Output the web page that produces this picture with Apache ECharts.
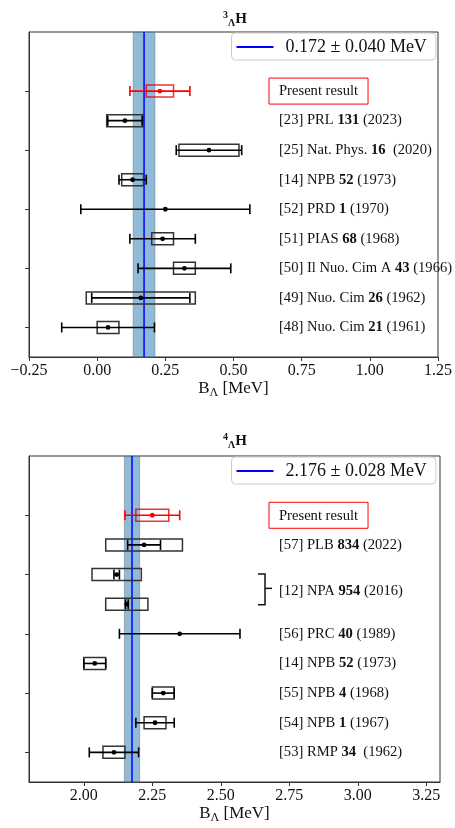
<!DOCTYPE html>
<html>
<head>
<meta charset="utf-8">
<script src="https://cdn.jsdelivr.net/npm/echarts@6/dist/echarts.min.js"></script>
<style>
  html, body { margin: 0; padding: 0; background: #fff; }
  #chart { width: 455px; height: 828px; }
</style>
</head>
<body>
<div id="chart"></div>
<script>
// 3ΛH measurements, listed bottom row (1) to top row (9)
var h3Labels = [
  "[48] Nuo. Cim {b|21} (1961)",
  "[49] Nuo. Cim {b|26} (1962)",
  "[50] Il Nuo. Cim A {b|43} (1966)",
  "[51] PIAS {b|68} (1968)",
  "[52] PRD {b|1} (1970)",
  "[14] NPB {b|52} (1973)",
  "[25] Nat. Phys. {b|16}  (2020)",
  "[23] PRL {b|131} (2023)",
  "Present result",
];
var h3Values = [0.04, 0.16, 0.32, 0.24, 0.25, 0.13, 0.41, 0.102, 0.23];
var h3Stat = [0.17, 0.18, 0.17, 0.12, 0.31, 0.05, 0.12, 0.063, 0.11];
var h3Syst = [0.04, 0.2, 0.04, 0.04, 0, 0.04, 0.11, 0.067, 0.05];
var h3Mean = 0.172;
var h3MeanErr = 0.04;
var h3Ticks = [-0.25, 0, 0.25, 0.5, 0.75, 1.0, 1.25];

// 4ΛH measurements, same order
var h4Labels = [
  "[53] RMP {b|34}  (1962)",
  "[54] NPB {b|1} (1967)",
  "[55] NPB {b|4} (1968)",
  "[14] NPB {b|52} (1973)",
  "[56] PRC {b|40} (1989)",
  "",
  "",
  "[57] PLB {b|834} (2022)",
  "Present result",
];
var h4Values = [2.11, 2.26, 2.29, 2.04, 2.35, 2.157, 2.12, 2.22, 2.25];
var h4Stat = [0.09, 0.07, 0.04, 0.04, 0.22, 0.005, 0.01, 0.06, 0.1];
var h4Syst = [0.04, 0.04, 0.04, 0.04, 0, 0.077, 0.09, 0.14, 0.06];
var h4Mean = 2.176;
var h4MeanErr = 0.028;
var h4Ticks = [2.0, 2.25, 2.5, 2.75, 3.0, 3.25];
var h4GroupRows = [6, 7];
var h4GroupLabel = "[12] NPA {b|954} (2016)";

var rowTicks = [1, 3, 5, 7, 9];
var serif = "Liberation Serif, Times New Roman, serif";
var labelSize = 14.6;

function meanName(m, e) {
  return m.toFixed(3) + " \u00b1 " + e.toFixed(3) + " MeV";
}

function fmtTick(v) {
  return v < 0 ? "\u2212" + Math.abs(v).toFixed(2) : v.toFixed(2);
}

// box = systematic, bar with caps = statistical
function errorBar(lineColor, boxColor) {
  return function (params, api) {
    var v = api.value(0), st = api.value(1), sy = api.value(2), row = api.value(3);
    var c = api.coord([v, row]);
    var l = api.coord([v - st, row])[0];
    var r = api.coord([v + st, row])[0];
    var kids = [];
    if (sy > 0) {
      var bl = api.coord([v - sy, row])[0];
      var br = api.coord([v + sy, row])[0];
      kids.push({
        type: "rect",
        shape: { x: bl, y: c[1] - 6, width: br - bl, height: 12 },
        style: { fill: "none", stroke: boxColor, lineWidth: 1.5 },
      });
    }
    var ls = { stroke: lineColor, lineWidth: 1.6 };
    kids.push({ type: "line", shape: { x1: l, y1: c[1], x2: r, y2: c[1] }, style: ls });
    kids.push({ type: "line", shape: { x1: l, y1: c[1] - 5, x2: l, y2: c[1] + 5 }, style: ls });
    kids.push({ type: "line", shape: { x1: r, y1: c[1] - 5, x2: r, y2: c[1] + 5 }, style: ls });
    kids.push({ type: "circle", shape: { cx: c[0], cy: c[1], r: 2.4 }, style: { fill: lineColor } });
    return { type: "group", children: kids };
  };
}

function labelRender(labels) {
  return function (params, api) {
    var text = labels[params.dataIndex];
    if (!text) return null;
    var y = api.coord([api.value(0), api.value(1)])[1];
    var x = params.coordSys.x + 250;
    var style = {
      text: text,
      x: x,
      y: y,
      fill: "#111",
      font: labelSize + "px " + serif,
      verticalAlign: "middle",
      rich: { b: { fontWeight: "bold", fontSize: labelSize, fontFamily: serif } },
    };
    if (text === "Present result") {
      style.x = x - 10;
      style.borderColor = "red";
      style.borderWidth = 1;
      style.padding = [6, 10, 5, 10];
    }
    return { type: "text", style: style };
  };
}

function bracketRender(params, api) {
  var x0 = params.coordSys.x;
  var xmin = api.value(0);
  var yA = api.coord([xmin, api.value(1)])[1] - 0.5;
  var yB = api.coord([xmin, api.value(2)])[1] + 0.5;
  var yM = (yA + yB) / 2 - 1;
  var ls = { stroke: "#111", lineWidth: 1.5, fill: "none" };
  return {
    type: "group",
    children: [
      { type: "polyline", shape: { points: [[x0 + 229, yA], [x0 + 236, yA], [x0 + 236, yB], [x0 + 229, yB]] }, style: ls },
      { type: "line", shape: { x1: x0 + 236, y1: yM, x2: x0 + 243, y2: yM }, style: ls },
      {
        type: "text",
        style: {
          text: h4GroupLabel, x: x0 + 250, y: yM + 2.5, fill: "#111",
          font: labelSize + "px " + serif, verticalAlign: "middle",
          rich: { b: { fontWeight: "bold", fontSize: labelSize, fontFamily: serif } },
        },
      },
    ],
  };
}

function panelSeries(idx, values, stat, syst, labels, mean, meanErr, xmin) {
  var pts = values.map(function (v, i) {
    return [v, stat[i], syst[i], i + 1];
  });
  var last = pts.length - 1;
  return [
    {
      name: meanName(mean, meanErr),
      type: "line",
      xAxisIndex: idx,
      yAxisIndex: idx,
      color: "#0000ff",
      symbol: "none",
      lineStyle: { color: "#0000ff", width: 1.5 },
      data: [[mean, 0], [mean, 11]],
      markArea: {
        silent: true,
        itemStyle: { color: "rgba(31,119,180,0.5)", borderColor: "rgba(120,120,120,0.5)", borderWidth: 1 },
        data: [[{ xAxis: mean - meanErr }, { xAxis: mean + meanErr }]],
      },
      z: 1,
    },
    {
      type: "custom",
      xAxisIndex: idx,
      yAxisIndex: idx,
      renderItem: errorBar("#000", "#333"),
      data: pts.slice(0, last),
      encode: { x: 0, y: 3 },
      z: 3,
    },
    {
      type: "custom",
      xAxisIndex: idx,
      yAxisIndex: idx,
      renderItem: errorBar("#ff0000", "rgba(230,0,0,0.8)"),
      data: pts.slice(last),
      encode: { x: 0, y: 3 },
      z: 3,
    },
    {
      type: "custom",
      xAxisIndex: idx,
      yAxisIndex: idx,
      renderItem: labelRender(labels),
      data: labels.map(function (t, i) {
        return [xmin, i + 1];
      }),
      z: 4,
    },
  ];
}

function xAxisFor(idx, ticks, min, max) {
  return {
    type: "value",
    gridIndex: idx,
    min: min,
    max: max,
    splitLine: { show: false },
    axisLine: { onZero: false, lineStyle: { color: "#333", width: 1 } },
    axisTick: { customValues: ticks, length: 4, lineStyle: { color: "#333" } },
    axisLabel: {
      customValues: ticks,
      formatter: fmtTick,
      color: "#111",
      fontSize: 16,
      fontFamily: serif,
      margin: 6,
    },
    name: "{n|B}{s|\u039b}{n| [MeV]}",
    nameLocation: "middle",
    nameGap: 10,
    nameTextStyle: {
      rich: {
        n: { fontSize: 17, fontFamily: serif, color: "#111", lineHeight: 20 },
        s: { fontSize: 12, fontFamily: serif, color: "#111", lineHeight: 14, verticalAlign: "bottom" },
      },
    },
  };
}

function yAxisFor(idx) {
  return {
    type: "value",
    gridIndex: idx,
    min: 0,
    max: 11,
    splitLine: { show: false },
    axisLine: { show: true, onZero: false, lineStyle: { color: "#333", width: 1 } },
    axisTick: { show: true, customValues: rowTicks, length: 4, lineStyle: { color: "#333" } },
    axisLabel: { show: false },
  };
}

function legendFor(idx, name, top) {
  return {
    data: [name],
    left: 231.5,
    top: top,
    icon: "rect",
    itemWidth: 37,
    itemHeight: 2,
    backgroundColor: "#fff",
    borderColor: "#ccc",
    borderWidth: 1,
    borderRadius: 4,
    padding: [5, 9, 4, 5],
    textStyle: { fontSize: 18, fontFamily: serif, color: "#111", padding: [0, 0, 0, 7] },
  };
}

function titleFor(mass, top) {
  return {
    text: "{p|" + mass + "}{s|\u039b}{m|H}",
    left: 230,
    top: top,
    textAlign: "center",
    textStyle: {
      rich: {
        p: { fontSize: 10, fontFamily: serif, color: "#111", lineHeight: 10, verticalAlign: "top" },
        s: { fontSize: 10, fontFamily: serif, color: "#111", lineHeight: 10, verticalAlign: "bottom" },
        m: { fontSize: 15, fontFamily: serif, color: "#111", lineHeight: 18 },
      },
    },
  };
}

var dom = document.getElementById("chart");
var myChart = echarts.init(dom, null, { renderer: "canvas" });

var series = []
  .concat(panelSeries(0, h3Values, h3Stat, h3Syst, h3Labels, h3Mean, h3MeanErr, -0.25))
  .concat(panelSeries(1, h4Values, h4Stat, h4Syst, h4Labels, h4Mean, h4MeanErr, 1.8));
series.push({
  type: "custom",
  xAxisIndex: 1,
  yAxisIndex: 1,
  renderItem: bracketRender,
  data: [[1.8, h4GroupRows[1], h4GroupRows[0]]],
  z: 4,
});

var option = {
  animation: false,
  backgroundColor: "#fff",
  title: [titleFor(3, 5), titleFor(4, 427)],
  legend: [
    legendFor(0, meanName(h3Mean, h3MeanErr), 33),
    legendFor(1, meanName(h4Mean, h4MeanErr), 457),
  ],
  grid: [
    { left: 29, top: 32, width: 411, height: 325, show: true, borderColor: "#333", borderWidth: 1 },
    { left: 29, top: 456, width: 411, height: 326, show: true, borderColor: "#333", borderWidth: 1 },
  ],
  xAxis: [xAxisFor(0, h3Ticks, -0.25, 1.25), xAxisFor(1, h4Ticks, 1.8, 3.3)],
  yAxis: [yAxisFor(0), yAxisFor(1)],
  series: series,
};

if (option && typeof option === "object") {
  myChart.setOption(option);
}
window.addEventListener("resize", myChart.resize);
</script>
</body>
</html>
